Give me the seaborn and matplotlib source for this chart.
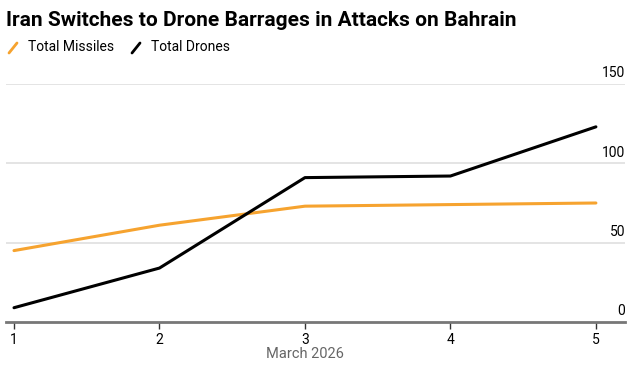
import matplotlib
matplotlib.use("Agg")
import matplotlib.pyplot as plt
from matplotlib.lines import Line2D
import matplotlib.transforms as mtransforms
import seaborn as sns
import pandas as pd

days = [1, 2, 3, 4, 5]
missiles = [45, 61, 73, 74, 75]
drones = [9, 34, 91, 92, 123]
y_ticks = [0, 50, 100, 150]
series_names = ["Total Missiles", "Total Drones"]
colors = {"Total Missiles": "#F6A32F", "Total Drones": "#000000"}

df = pd.DataFrame({
    "day": days * 2,
    "value": missiles + drones,
    "series": [series_names[0]] * len(days) + [series_names[1]] * len(days),
})

sns.set_theme(style="white")
plt.rcParams['font.family'] = ['Roboto', 'DejaVu Sans']

W, H = 643, 366
fig = plt.figure(figsize=(W / 100, H / 100), dpi=100)
ax = fig.add_axes([6 / W, (H - 322) / H, (625 - 6) / W, (322 - 84) / H])

for yt in y_ticks[1:]:
    ax.axhline(yt, color="#DDDDDD", lw=1.1, zorder=0)

sns.lineplot(data=df, x="day", y="value", hue="series", palette=colors,
             ax=ax, linewidth=2.2, legend=False, zorder=3)

ax.set_xlim(0.945, 5.2)
ax.set_ylim(0, 150)
for s in ["top", "right", "left"]:
    ax.spines[s].set_visible(False)
ax.spines["bottom"].set_color("#777777")
ax.spines["bottom"].set_linewidth(2.0)
ax.spines["bottom"].set_zorder(4)
ax.spines["bottom"].set_clip_on(False)

ax.set_xticks(days)
ax.set_xticklabels([str(d) for d in days], fontsize=10, color="#000000")
ax.tick_params(axis="x", length=5, width=1, color="#333333", pad=3, bottom=True)
ax.set_yticks([])
ax.set_xlabel("")
ax.set_ylabel("")
ax.text(3, 1 - 354 / H, "March 2026",
        transform=mtransforms.blended_transform_factory(ax.transData, fig.transFigure),
        ha="center", va="center", fontsize=10.5, color="#666666")

trans = mtransforms.blended_transform_factory(ax.transAxes, ax.transData)
for yt in y_ticks:
    ax.text(1.0, yt + 2.3, str(yt), transform=trans, ha="right", va="bottom",
            fontsize=10, color="#000000", clip_on=False)

fig.text(6 / W, 1 - 20 / H, "Iran Switches to Drone Barrages in Attacks on Bahrain",
         fontsize=15, fontweight="bold", ha="left", va="center", color="#000000")

# legend
for name, x0, tx in [("Total Missiles", 9, 28), ("Total Drones", 132, 151)]:
    fig.add_artist(Line2D([x0 / W, (x0 + 8) / W], [1 - 53 / H, 1 - 43 / H],
                          color=colors[name], lw=2.0, transform=fig.transFigure))
    fig.text(tx / W, 1 - 47 / H, name, fontsize=10, ha="left", va="center", color="#000000")

fig.savefig("out.png", dpi=100)
